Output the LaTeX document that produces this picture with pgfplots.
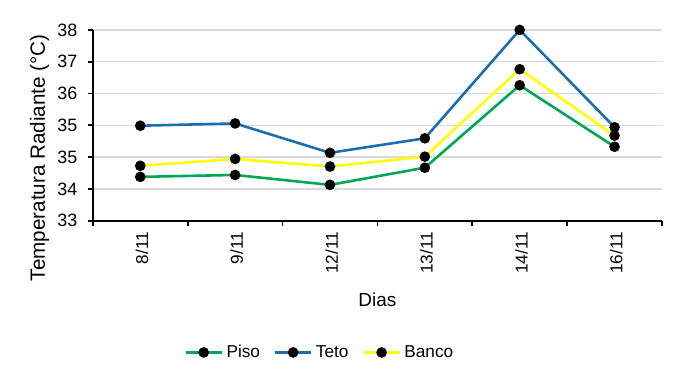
\documentclass[border=0pt]{standalone}
\usepackage{pgfplots}
\pgfplotsset{compat=1.18}
\usepackage{fontspec}
\setmainfont{Liberation Sans}
\definecolor{cpiso}{RGB}{0,166,81}
\definecolor{cteto}{RGB}{25,110,175}
\definecolor{cbanco}{RGB}{255,255,0}
\definecolor{cgrid}{RGB}{217,217,217}
\begin{document}
\begin{tikzpicture}
\path (-54pt,-93pt) rectangle (344.4pt,128.4pt);
\begin{axis}[
  at={(0,0)}, anchor=south west,
  scale only axis, width=331pt, height=111pt,
  xmin=-0.5, xmax=5.5, ymin=33, ymax=38,
  axis x line*=bottom, axis y line*=left,
  axis line style={black, line width=1pt},
  xtick={0,1,2,3,4,5},
  xticklabels={8/11,9/11,12/11,13/11,14/11,16/11},
  major x tick style={draw=none},
  minor xtick={-0.5,0.5,1.5,2.5,3.5,4.5,5.5},
  minor x tick style={black, line width=1pt},
  minor tick length=3pt,
  xtick align=outside,
  xticklabel style={rotate=90, anchor=east, font=\fontsize{10}{12}\selectfont, yshift=-1pt},
  ytick={33,33.8333333,34.6666667,35.5,36.3333333,37.1666667,38},
  yticklabels={33,34,35,35,36,37,38},
  ytick align=outside,
  major y tick style={black, line width=1pt},
  major tick length=3pt,
  yticklabel style={font=\fontsize{10.4}{12}\selectfont, xshift=-2.5pt},
  ymajorgrids, grid style={cgrid, line width=0.9pt},
  xlabel={Dias}, xlabel style={font=\fontsize{11}{13}\selectfont, at={(axis description cs:0.5,0)}, anchor=center, yshift=-46pt},
  ylabel={Temperatura Radiante (°C)}, ylabel style={font=\fontsize{12}{14}\selectfont, at={(axis description cs:0,0.33)}, anchor=center, yshift=31pt},
  legend style={at={(axis description cs:0.40,-0.69)}, anchor=center, draw=none, legend columns=3, font=\fontsize{10}{12}\selectfont, /tikz/every even column/.append style={column sep=6pt}},
  legend image code/.code={\draw[mark repeat=2,mark phase=2,#1] plot coordinates {(0cm,0cm)(0.37cm,0cm)(0.74cm,0cm)};},
  every axis plot/.append style={line width=1.5pt, mark=*, mark size=2.3pt, mark options={fill=black, draw=black}},
  clip=false,
]
\addplot[cpiso] coordinates {(0,34.15) (1,34.20) (2,33.94) (3,34.39) (4,36.55) (5,34.94)};
\addlegendentry{Piso}
\addplot[cteto] coordinates {(0,35.49) (1,35.55) (2,34.78) (3,35.16) (4,38.0) (5,35.45)};
\addlegendentry{Teto}
\addplot[cbanco] coordinates {(0,34.44) (1,34.62) (2,34.42) (3,34.68) (4,36.97) (5,35.23)};
\addlegendentry{Banco}
\end{axis}
\end{tikzpicture}
\end{document}
